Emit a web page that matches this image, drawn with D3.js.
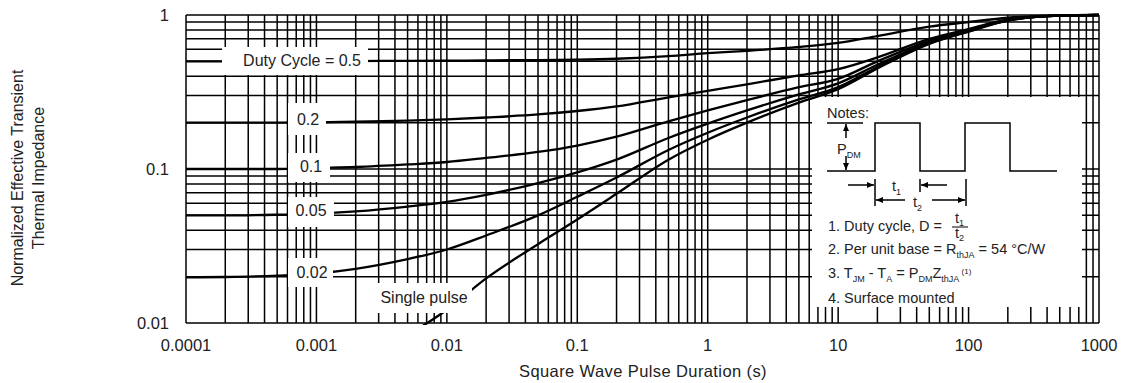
<!DOCTYPE html>
<html>
<head>
<meta charset="utf-8">
<script src="https://cdn.jsdelivr.net/npm/d3@7"></script>
<style>
  html, body { margin: 0; padding: 0; background: #fff; }
  svg { display: block; font-family: "Liberation Sans", Arial, sans-serif; }
</style>
</head>
<body>
<div id="chart"></div>
<script>
// pulse durations (s) shared by the duty-cycle curves
const tVals = [1e-4, 2e-4, 5e-4, 1e-3, 2e-3, 5e-3, 0.01, 0.02, 0.05, 0.1, 0.2, 0.5, 1, 2, 5, 10, 20, 50, 100, 200, 500, 1000];
const duty05 = [0.5, 0.5, 0.5, 0.501, 0.502, 0.504, 0.505, 0.507, 0.51, 0.513, 0.52, 0.54, 0.565, 0.585, 0.62, 0.66, 0.73, 0.84, 0.9, 0.96, 0.995, 1.0];
const duty02 = [0.2, 0.2, 0.2, 0.201, 0.203, 0.206, 0.21, 0.216, 0.226, 0.238, 0.255, 0.292, 0.322, 0.355, 0.405, 0.445, 0.53, 0.70, 0.81, 0.935, 0.992, 1.0];
const duty01 = [0.1, 0.1, 0.1, 0.1016, 0.103, 0.107, 0.111, 0.118, 0.129, 0.142, 0.162, 0.204, 0.24, 0.28, 0.34, 0.385, 0.5, 0.68, 0.8, 0.928, 0.991, 1.0];
const duty005 = [0.05, 0.05, 0.0505, 0.0512, 0.053, 0.057, 0.0612, 0.068, 0.081, 0.095, 0.115, 0.159, 0.197, 0.24, 0.305, 0.36, 0.475, 0.665, 0.79, 0.924, 0.99, 1.0];
const duty002 = [0.0198, 0.0199, 0.0203, 0.021, 0.0225, 0.026, 0.03, 0.037, 0.05, 0.066, 0.088, 0.133, 0.172, 0.216, 0.283, 0.34, 0.46, 0.655, 0.784, 0.922, 0.99, 1.0];
// single pulse
const tSingle = [0.005, 0.01, 0.02, 0.05, 0.1, 0.2, 0.5, 1, 2, 5, 10, 20, 50, 100, 200, 500, 1000];
const single = [0.0083, 0.0122, 0.0195, 0.0325, 0.047, 0.069, 0.115, 0.155, 0.2, 0.27, 0.33, 0.45, 0.65, 0.78, 0.92, 0.99, 1.0];

const xTicks = [1e-4, 1e-3, 0.01, 0.1, 1, 10, 100, 1000];
const xTickLabels = ["0.0001", "0.001", "0.01", "0.1", "1", "10", "100", "1000"];
const yTicks = [0.01, 0.1, 1];
const yTickLabels = ["0.01", "0.1", "1"];

const W = 1124, H = 383;
const pLeft = 186, pRight = 1099, pTop = 15, pBottom = 323;

const svg = d3.select("#chart").append("svg")
  .attr("width", W).attr("height", H);

const x = d3.scaleLog().domain([1e-4, 1000]).range([pLeft, pRight]);
const y = d3.scaleLog().domain([0.01, 1]).range([pBottom, pTop]);

// grid values 1..9 per decade
const xGrid = [];
for (let e = -4; e < 3; e++) for (let m = 1; m <= 9; m++) xGrid.push(m * Math.pow(10, e));
xGrid.push(1000);
const yGrid = [];
for (let e = -2; e < 0; e++) for (let m = 1; m <= 9; m++) yGrid.push(m * Math.pow(10, e));
yGrid.push(1);

const grid = svg.append("g").attr("stroke", "#000").attr("stroke-width", 1.5);
grid.selectAll("line.h").data(yGrid).enter().append("line")
  .attr("x1", pLeft).attr("x2", pRight)
  .attr("y1", d => y(d)).attr("y2", d => y(d));
grid.selectAll("line.v").data(xGrid).enter().append("line")
  .attr("y1", pTop).attr("y2", pBottom)
  .attr("x1", d => x(d)).attr("x2", d => x(d));

// white notes area
svg.append("rect").attr("x", 812).attr("y", 97).attr("width", 270).attr("height", 210).attr("fill", "#fff");

// curves
svg.append("clipPath").attr("id", "clip").append("rect")
  .attr("x", pLeft).attr("y", pTop - 2).attr("width", pRight - pLeft).attr("height", pBottom - pTop + 4);

const line = d3.line().x(d => x(d[0])).y(d => y(d[1])).curve(d3.curveMonotoneX);
const series = [duty05, duty02, duty01, duty005, duty002].map(s => tVals.map((t, i) => [t, s[i]]));
series.push(tSingle.map((t, i) => [t, single[i]]));

svg.append("g").attr("clip-path", "url(#clip)")
  .selectAll("path").data(series).enter().append("path")
  .attr("fill", "none").attr("stroke", "#000").attr("stroke-width", 2.3)
  .attr("d", line);

// label boxes hide grid and curves
const labels = [
  { text: "Duty Cycle = 0.5", bx: 222, by: 47, bw: 146, bh: 28, cx: 302, cy: 60 },
  { text: "0.2", bx: 288, by: 103, bw: 38, bh: 32, cx: 308, cy: 119 },
  { text: "0.1", bx: 288, by: 153, bw: 42, bh: 29, cx: 311, cy: 166 },
  { text: "0.05", bx: 288, by: 197, bw: 46, bh: 30, cx: 311, cy: 210 },
  { text: "0.02", bx: 288, by: 258, bw: 45, bh: 29, cx: 312, cy: 272 },
  { text: "Single pulse", bx: 375, by: 283, bw: 97, bh: 30, cx: 424, cy: 297 }
];
svg.selectAll("rect.lbl").data(labels).enter().append("rect")
  .attr("x", d => d.bx).attr("y", d => d.by).attr("width", d => d.bw).attr("height", d => d.bh)
  .attr("fill", "#fff");
svg.selectAll("text.lbl").data(labels).enter().append("text")
  .attr("x", d => d.cx).attr("y", d => d.cy).attr("dy", "0.35em")
  .attr("text-anchor", "middle").attr("font-size", 16).attr("fill", "#222")
  .text(d => d.text);

// tick labels
svg.selectAll("text.xt").data(xTicks).enter().append("text")
  .attr("x", d => x(d)).attr("y", 345).attr("dy", "0.35em")
  .attr("text-anchor", "middle").attr("font-size", 16.5).attr("fill", "#222")
  .text((d, i) => xTickLabels[i]);
svg.selectAll("text.yt").data(yTicks).enter().append("text")
  .attr("x", 169).attr("y", d => y(d)).attr("dy", "0.35em")
  .attr("text-anchor", "end").attr("font-size", 16.5).attr("fill", "#222")
  .text((d, i) => yTickLabels[i]);

// axis titles
svg.append("text").attr("x", 643).attr("y", 371).attr("dy", "0.35em")
  .attr("text-anchor", "middle").attr("font-size", 16.5).attr("letter-spacing", 0.4).attr("fill", "#222")
  .text("Square Wave Pulse Duration (s)");
const yt = svg.append("g").attr("transform", "translate(27,178) rotate(-90)")
  .attr("font-size", 16).attr("fill", "#222").attr("text-anchor", "middle");
yt.append("text").attr("y", -10).attr("dy", "0.35em").text("Normalized Effective Transient");
yt.append("text").attr("y", 11).attr("dy", "0.35em").text("Thermal Impedance");

// notes: pulse diagram
const notes = svg.append("g").attr("fill", "none").attr("stroke", "#000").attr("stroke-width", 1.5);
const wave = [[827, 171], [875, 171], [875, 123], [920, 123], [920, 171], [965, 171], [965, 123], [1010, 123], [1010, 171], [1057, 171]];
notes.append("path").attr("d", d3.line()(wave));
notes.append("line").attr("x1", 827).attr("x2", 863).attr("y1", 123).attr("y2", 123);
// dimension ticks
notes.append("line").attr("x1", 875).attr("x2", 875).attr("y1", 179).attr("y2", 206);
notes.append("line").attr("x1", 920).attr("x2", 920).attr("y1", 179).attr("y2", 192);
notes.append("line").attr("x1", 966).attr("x2", 966).attr("y1", 179).attr("y2", 206);

function arrow(x1, y1, x2, y2) {
  notes.append("line").attr("x1", x1).attr("y1", y1).attr("x2", x2).attr("y2", y2);
  const a = Math.atan2(y2 - y1, x2 - x1), L = 7, w = 3;
  const p = [
    [x2, y2],
    [x2 - L * Math.cos(a) + w * Math.sin(a), y2 - L * Math.sin(a) - w * Math.cos(a)],
    [x2 - L * Math.cos(a) - w * Math.sin(a), y2 - L * Math.sin(a) + w * Math.cos(a)]
  ];
  svg.append("path").attr("d", d3.line()(p) + "Z").attr("fill", "#000");
}
arrow(846, 138, 846, 124);
arrow(846, 156, 846, 170);
arrow(848, 185, 874, 185);
arrow(947, 185, 921, 185);
arrow(905, 200, 876, 200);
arrow(932, 200, 965, 200);

const nt = svg.append("g").attr("font-size", 14.5).attr("fill", "#222");
nt.append("text").attr("x", 827).attr("y", 113).attr("dy", "0.35em").text("Notes:");
const pdm = nt.append("text").attr("x", 837).attr("y", 149).attr("dy", "0.35em");
pdm.append("tspan").text("P");
pdm.append("tspan").attr("font-size", 9).attr("dy", 4).text("DM");
const t1 = nt.append("text").attr("x", 892).attr("y", 186).attr("dy", "0.35em");
t1.append("tspan").text("t");
t1.append("tspan").attr("font-size", 9).attr("dy", 4).text("1");
const t2 = nt.append("text").attr("x", 913).attr("y", 202).attr("dy", "0.35em");
t2.append("tspan").text("t");
t2.append("tspan").attr("font-size", 9).attr("dy", 4).text("2");

nt.append("text").attr("x", 828).attr("y", 226).attr("dy", "0.35em").text("1. Duty cycle, D =");
const f1 = nt.append("text").attr("x", 955).attr("y", 218).attr("dy", "0.35em");
f1.append("tspan").text("t");
f1.append("tspan").attr("font-size", 9).attr("dy", 3).text("1");
svg.append("line").attr("x1", 952).attr("x2", 968).attr("y1", 227).attr("y2", 227).attr("stroke", "#000").attr("stroke-width", 1);
const f2 = nt.append("text").attr("x", 955).attr("y", 233).attr("dy", "0.35em");
f2.append("tspan").text("t");
f2.append("tspan").attr("font-size", 9).attr("dy", 3).text("2");

const n2 = nt.append("text").attr("x", 828).attr("y", 249).attr("dy", "0.35em");
n2.append("tspan").text("2. Per unit base = R");
n2.append("tspan").attr("font-size", 9).attr("dy", 4).text("thJA");
n2.append("tspan").attr("dy", -4).text(" = 54 °C/W");

const n3 = nt.append("text").attr("x", 828).attr("y", 273).attr("dy", "0.35em");
n3.append("tspan").text("3. T");
n3.append("tspan").attr("font-size", 9).attr("dy", 4).text("JM");
n3.append("tspan").attr("dy", -4).text(" - T");
n3.append("tspan").attr("font-size", 9).attr("dy", 4).text("A");
n3.append("tspan").attr("dy", -4).text(" = P");
n3.append("tspan").attr("font-size", 9).attr("dy", 4).text("DM");
n3.append("tspan").attr("dy", -4).text("Z");
n3.append("tspan").attr("font-size", 9).attr("dy", 4).text("thJA");
n3.append("tspan").attr("font-size", 8).attr("dy", -8).text(" (1)");

nt.append("text").attr("x", 828).attr("y", 298).attr("dy", "0.35em").text("4. Surface mounted");
</script>
</body>
</html>
